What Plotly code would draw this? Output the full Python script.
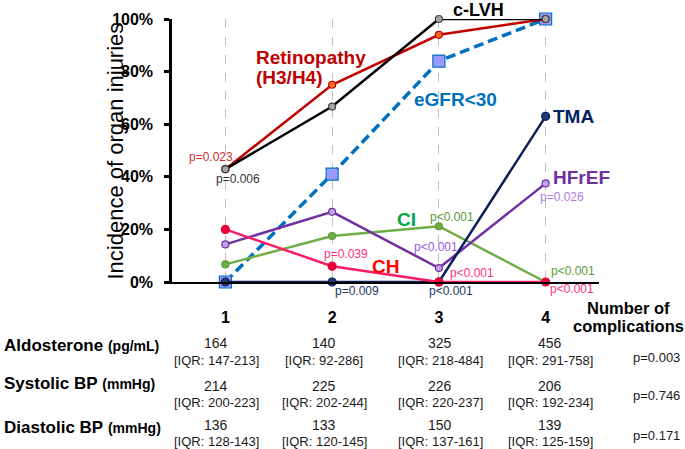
import plotly.graph_objects as go

# ---------------- data ----------------
categories = [1, 2, 3, 4]
tick_labels = ["1", "2", "3", "4"]

c_lvh = [0.429, 0.667, 1.0, 1.0]
retinopathy = [0.429, 0.75, 0.94, 1.0]
egfr30 = [0.0, 0.41, 0.84, 1.0]
tma = [0.0, 0.0, 0.0, 0.63]
hfref = [0.143, 0.267, 0.053, 0.375]
ci = [0.067, 0.175, 0.212, 0.0]
ch = [0.20, 0.06, 0.0, 0.0]

y_ticks = [0, 0.2, 0.4, 0.6, 0.8, 1.0]

aldo_median = ["164", "140", "325", "456"]
aldo_iqr = ["147-213", "92-286", "218-484", "291-758"]
sbp_median = ["214", "225", "226", "206"]
sbp_iqr = ["200-223", "202-244", "220-237", "192-234"]
dbp_median = ["136", "133", "150", "139"]
dbp_iqr = ["128-143", "120-145", "137-161", "125-159"]
table_p = ["p=0.003", "p=0.746", "p=0.171"]
row_names = ["Aldosterone", "Systolic BP", "Diastolic BP"]
row_units = ["(pg/mL)", "(mmHg)", "(mmHg)"]

# ---------------- layout geometry (pixels) ----------------
W, H = 685, 449
L, R, T, B = 172, 599, 19, 282
PW, PH = R - L, B - T
FONT = "Liberation Sans, Arial, sans-serif"


def px(xp):
    return (xp - L) / PW


def py(yp):
    return (B - yp) / PH


fig = go.Figure()


def add_series(y, line_color, marker_fill, marker_line, size=8, symbol="circle",
               width=2.5, dash="solid"):
    fig.add_trace(go.Scatter(
        x=categories, y=y, mode="lines+markers", cliponaxis=False,
        line=dict(color=line_color, width=width, dash=dash),
        marker=dict(symbol=symbol, size=size, color=marker_fill,
                    line=dict(color=marker_line, width=1.2)),
        showlegend=False, hoverinfo="skip"))


add_series(egfr30, "#0070C0", "#9999FF", "#0070C0", size=12, symbol="square",
           width=3.5, dash="10px,5px")
add_series(retinopathy, "#C00000", "#F07028", "#C00000", size=7)
add_series(c_lvh, "#000000", "#A6A6A6", "#404040", size=7)
add_series(ci, "#70AD47", "#70AD47", "#5A9A3A", size=7)
add_series(hfref, "#7030A0", "#C2A0EE", "#7030A0", size=7)
add_series(tma, "#0B1F5C", "#1F3A70", "#0B1F5C", size=8)
add_series(ch, "#FF1A66", "#E8003A", "#E8003A", size=8)

ann = []


def text(x, y, s, size, color, bold=False, xanchor="center", yanchor="middle", **kw):
    ann.append(dict(x=px(x), y=py(y), xref="paper", yref="paper", text=s,
                    showarrow=False, xanchor=xanchor, yanchor=yanchor,
                    font=dict(size=size, color=color, family=FONT,
                              weight="bold" if bold else "normal"), **kw))


# series labels
text(478, 10, "c-LVH", 18, "#000000", True)
text(254, 57, "Retinopathy", 19, "#C00000", True, xanchor="left")
text(254, 77, "(H3/H4)", 19, "#C00000", True, xanchor="left")
text(455, 100, "eGFR&lt;30", 19, "#0070C0", True)
text(573, 116, "TMA", 19, "#002060", True)
text(581, 177, "HFrEF", 19, "#7030A0", True)
text(406, 219, "CI", 19, "#00A848", True)
text(385, 266, "CH", 19, "#FF0000", True)

# p-values
text(211, 157, "p=0.023", 12, "#D03030")
text(238, 179, "p=0.006", 12, "#333333")
text(346, 254, "p=0.039", 12, "#FF3377")
text(357, 291, "p=0.009", 12, "#203864")
text(452, 217, "p&lt;0.001", 12, "#5A9A3A")
text(436, 247, "p&lt;0.001", 12, "#9B59E6")
text(472, 273, "p&lt;0.001", 12, "#FF3377")
text(451, 291, "p&lt;0.001", 12, "#203864")
text(562, 197, "p=0.026", 12, "#B07AE0")
text(573, 271, "p&lt;0.001", 12, "#5A9A3A")
text(572, 289, "p&lt;0.001", 12, "#FF3377")

# axis title
ann.append(dict(x=px(100), y=py(151), xref="paper", yref="paper",
                text="Incidence of organ injuries", textangle=-90, showarrow=False,
                font=dict(size=22, color="#000000", family=FONT)))

# "Number of complications"
text(628, 308, "Number of", 16.5, "#000000", True)
text(628, 326, "complications", 16.5, "#000000", True)

# table
col_x = [216, 324, 440, 550]
row_val_y = [343, 386, 425]
row_iqr_y = [360, 402, 441]
row_lab_y = [345, 383, 427]
row_p_y = [357, 395, 435]
medians = [aldo_median, sbp_median, dbp_median]
iqrs = [aldo_iqr, sbp_iqr, dbp_iqr]
for r in range(3):
    text(2, row_lab_y[r],
         "<b>" + row_names[r] + "</b> <b><span style='font-size:14px'>" + row_units[r] + "</span></b>",
         17, "#000000", xanchor="left")
    for c in range(4):
        text(col_x[c], row_val_y[r], medians[r][c], 14, "#1a1a1a")
        text(col_x[c], row_iqr_y[r], "[IQR: " + iqrs[r][c] + "]", 13, "#1a1a1a")
    text(656, row_p_y[r], table_p[r], 13, "#1a1a1a")

fig.update_layout(
    width=W, height=H, margin=dict(l=L, r=W - R, t=T, b=H - B),
    paper_bgcolor="white", plot_bgcolor="white",
    font=dict(family=FONT, color="#000000"),
    annotations=ann,
    xaxis=dict(range=[0.5, 4.5], tickvals=categories, ticktext=tick_labels,
               showgrid=True, gridcolor="#BFBFBF", griddash="dash", gridwidth=1,
               zeroline=False, showline=True, linecolor="#000000", linewidth=2,
               ticks="", ticklabelstandoff=20,
               tickfont=dict(size=16, family=FONT, weight="bold", color="#000000")),
    yaxis=dict(range=[0, 1], tickvals=y_ticks, tickformat=".0%",
               showgrid=False, zeroline=False, showline=True, linecolor="#000000",
               linewidth=2.5, ticks="outside", ticklen=5, tickwidth=2.5,
               tickcolor="#000000", ticklabelstandoff=8,
               tickfont=dict(size=16, family=FONT, weight="bold", color="#000000")),
)

fig.write_html(
    "out.html",
    config={"displayModeBar": False},
    post_script="document.body.style.margin='0';document.body.style.overflow='hidden';",
)
